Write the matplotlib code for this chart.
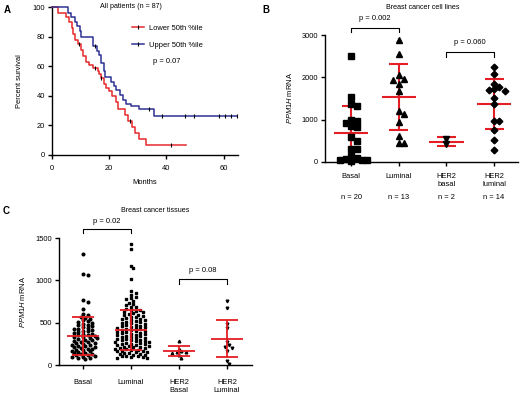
import numpy as np
import matplotlib
matplotlib.use("Agg")
import matplotlib.pyplot as plt
from matplotlib.lines import Line2D

plt.rcParams['font.family'] = ['Liberation Sans', 'DejaVu Sans']
plt.rcParams['mathtext.fontset'] = 'custom'
plt.rcParams['mathtext.it'] = 'Liberation Sans:italic'
plt.rcParams['mathtext.rm'] = 'Liberation Sans'
plt.rcParams['axes.linewidth'] = 1.0

FS = 5.4
RED_KM = '#e5282c'
BLUE_KM = '#2e3192'
RED_BAR = '#e31e24'

# ---- panel A: survival curves (step times / percent survival) ----
low_t = [0, 2, 5, 6, 7, 7.5, 8, 9, 10, 11, 12, 13, 14.5, 16, 16.5, 17, 18, 19, 20, 21, 22.4, 23, 25.5, 26.7, 28, 29, 30.5, 33, 47]
low_s = [100, 96, 93, 90, 86, 82, 78, 75, 71, 67, 63, 61, 59, 57, 55, 52, 48, 45, 43, 40, 36, 31, 27, 23, 19, 15, 11, 7, 7]
low_cens = [9.3, 14.9, 17.2, 27.3, 41.5]

up_t = [0, 5.5, 6.7, 7.9, 8.8, 9.7, 10.3, 14.5, 15.8, 16.4, 17.2, 18, 18.5, 20.6, 21.6, 22.4, 23.6, 24.8, 26, 27.6, 30.3, 35.8, 64.5]
up_s = [100, 96, 93.5, 90, 87, 83.5, 79.5, 73.5, 70.5, 67.5, 62, 56.5, 52.5, 49.5, 46.5, 44, 40.5, 37, 34.5, 33, 31, 26.6, 26.6]
up_cens = [15, 34, 38.3, 46.5, 49.5, 58.2, 60.5, 62.5, 64.5]

# ---- panel B: cell lines ----
b_groups = ['Basal', 'Luminal', 'HER2\nbasal', 'HER2\nluminal']
b_n = ['n = 20', 'n = 13', 'n = 2', 'n = 14']
b_basal = [2514, 1527, 1378, 1331, 1002, 963, 924, 861, 822, 595, 493, 298, 298, 141, 86, 63, 39, 39, 39, 20]
b_luminal = [2881, 2552, 2059, 1958, 1942, 1840, 1668, 1214, 1135, 940, 611, 454, 454]
b_her2_basal = [548, 415]
b_her2_luminal = [2239, 2075, 1848, 1770, 1723, 1707, 1683, 1511, 1378, 963, 963, 752, 517, 274]
b_mean = [681, 1535, 478, 1378]
b_sd = [650, 790, 110, 590]

# ---- panel C: tissues ----
c_groups = ['Basal', 'Luminal', 'HER2\nBasal', 'HER2\nLuminal']
c_basal = [1310, 1080, 1060, 770, 750, 665, 600, 588, 572, 560, 548, 533, 521, 507, 498, 487, 476, 468,
           455, 447, 438, 430, 422, 413, 404, 397, 389, 380, 372, 366, 357, 350, 343, 336, 328, 320, 314,
           306, 299, 292, 284, 277, 270, 263, 256, 250, 242, 236, 229, 222, 216, 208, 201, 195, 188, 181,
           174, 168, 161, 154, 147, 141, 134, 127, 120, 113, 107, 100, 94, 87, 80, 72]
c_luminal = [1430, 1370, 1170, 1140, 1010, 870, 850, 830, 805, 790, 775, 760, 735, 720, 705, 690, 680, 665,
             655, 648, 640, 632, 625, 611, 604, 596, 588, 580, 571, 563, 556, 548, 541, 533, 527, 519, 512,
             506, 498, 491, 485, 478, 470, 466, 459, 452, 447, 440, 434, 428, 421, 416, 409, 403, 398, 391,
             386, 380, 374, 369, 362, 357, 351, 346, 340, 334, 329, 323, 318, 312, 307, 301, 296, 290, 285,
             279, 275, 270, 264, 259, 254, 249, 244, 238, 233, 228, 222, 218, 212, 207, 203, 197, 192, 186,
             181, 176, 170, 166, 160, 155, 150, 144, 139, 134, 128, 123, 118, 112, 106, 101, 96, 90, 84, 80]
c_her2_basal = [287, 195, 160, 155, 150, 145, 120, 85]
c_her2_luminal = [756, 677, 485, 440, 268, 240, 216, 205, 170, 47, 12]
c_mean = [343, 414, 165, 311]
c_sd = [226, 238, 55, 220]


def swarm(vals, diam, step, px_x, px_y):
    """Greedy column-scatter offsets (in x data units)."""
    vals = np.asarray(vals, float)
    order = np.argsort(-vals)
    placed = []
    offs = np.zeros(len(vals))
    steps = [0.0]
    for k in range(1, 60):
        steps += [k * step, -k * step]
    for i in order:
        y = vals[i] * px_y
        for s in steps:
            if all((px - s) ** 2 + (py - y) ** 2 >= diam ** 2 for px, py in placed):
                offs[i] = s / px_x
                placed.append((s, y))
                break
    return offs


def prism_axes(ax):
    for sp in ['top', 'right']:
        ax.spines[sp].set_visible(False)
    ax.tick_params(direction='out', length=3, width=1.0, labelsize=FS, pad=2)


def mean_sd(ax, x, m, s, lw, wm, wc, z):
    ax.plot([x - wm, x + wm], [m, m], color=RED_BAR, lw=lw, zorder=z, solid_capstyle='butt')
    ax.plot([x, x], [m - s, m + s], color=RED_BAR, lw=lw, zorder=z, solid_capstyle='butt')
    for v in (m - s, m + s):
        ax.plot([x - wc, x + wc], [v, v], color=RED_BAR, lw=lw, zorder=z, solid_capstyle='butt')


def bracket(ax, x0, x1, y, leg, text, ty):
    ax.plot([x0, x0, x1, x1], [y - leg, y, y, y - leg], color='k', lw=0.8, clip_on=False)
    ax.text((x0 + x1) / 2, ty, text, ha='center', va='center', fontsize=FS)


fig = plt.figure(figsize=(5.2, 3.93), dpi=100)

# ---------------- A ----------------
axA = fig.add_axes([0.1, 0.6056, 0.3577, 0.3764])
prism_axes(axA)
axA.step(low_t, low_s, where='post', color=RED_KM, lw=1.1, clip_on=False, zorder=3)
axA.step(up_t, up_s, where='post', color=BLUE_KM, lw=1.1, clip_on=False, zorder=3)
for t_c, ts, ss in ((low_cens, low_t, low_s), (up_cens, up_t, up_s)):
    idx = np.searchsorted(ts, t_c, side='right') - 1
    axA.plot(t_c, np.asarray(ss)[idx], ls='none', marker='|', color='k', ms=3.5, mew=0.8, zorder=4, clip_on=False)
axA.set_xlim(0, 65)
axA.set_ylim(0, 100)
axA.set_xticks([0, 20, 40, 60])
axA.set_yticks([0, 20, 40, 60, 80, 100])
axA.tick_params(axis='x', pad=4)
axA.set_xlabel('Months', fontsize=FS, labelpad=5)
axA.set_ylabel('Percent survival', fontsize=FS, labelpad=7)
axA.text(0.425, 1.005, 'All patients (n = 87)', transform=axA.transAxes, ha='center', va='center',
         fontsize=FS - 0.3)
handles = [Line2D([], [], color=RED_KM, lw=1.1, marker='|', mec='k', ms=3.5, mew=0.8),
           Line2D([], [], color=BLUE_KM, lw=1.1, marker='|', mec='k', ms=3.5, mew=0.8)]
axA.legend(handles, ['Lower 50th %ile', 'Upper 50th %ile'], loc='upper left',
           bbox_to_anchor=(0.415, 0.9), frameon=False, fontsize=FS, handlelength=1.6,
           handletextpad=0.7, labelspacing=1.25, borderaxespad=0)
axA.text(0.545, 0.63, 'p = 0.07', transform=axA.transAxes, fontsize=FS, va='center')

# ---------------- B ----------------
axB = fig.add_axes([0.625, 0.5878, 0.371, 0.3231])
prism_axes(axB)
axB.set_xlim(-0.55, 3.5)
axB.set_ylim(0, 3000)
b_data = [b_basal, b_luminal, b_her2_basal, b_her2_luminal]
b_mark = [('s', 4.0), ('^', 4.0), ('v', 4.0), ('D', 3.4)]
bx_px = 48.0
by_px = 127.0 / 3000
for i, vals in enumerate(b_data):
    offs = swarm(vals, 5.0, 5.4, bx_px, by_px)
    axB.plot(i + offs, vals, ls='none', marker=b_mark[i][0], ms=b_mark[i][1], color='k', zorder=3, clip_on=False)
    mean_sd(axB, i, b_mean[i], b_sd[i], 1.5, 0.36, 0.2, 2)
axB.set_xticks(range(4))
axB.set_xticklabels(b_groups, fontsize=FS, linespacing=1.15)
axB.tick_params(axis='x', pad=5)
axB.set_yticks([0, 1000, 2000, 3000])
axB.set_ylabel(r'$\it{PPM1H}$ mRNA', fontsize=FS, labelpad=5)
for i, lab in enumerate(b_n):
    axB.text(i, -0.28, lab, transform=axB.get_xaxis_transform(), ha='center', va='center', fontsize=FS)
bracket(axB, 0, 1, 3165, 95, 'p = 0.002', 3390)
bracket(axB, 2, 3, 2606, 118, 'p = 0.060', 2820)
axB.text(1.5, 3640, 'Breast cancer cell lines', ha='center', va='center', fontsize=FS - 0.3)

# ---------------- C ----------------
axC = fig.add_axes([0.1135, 0.0712, 0.3711, 0.3232])
prism_axes(axC)
axC.set_xlim(-0.5, 3.52)
axC.set_ylim(0, 1500)
c_data = [c_basal, c_luminal, c_her2_basal, c_her2_luminal]
c_mark = ['o', 's', '^', 'v']
cx_px = 48.0
cy_px = 127.0 / 1500
for i, vals in enumerate(c_data):
    offs = swarm(vals, 3.2, 2.3, cx_px, cy_px)
    axC.plot(i + offs, vals, ls='none', marker=c_mark[i], ms=1.9, color='k', zorder=2, clip_on=False)
    mean_sd(axC, i, c_mean[i], c_sd[i], 1.3, 0.34, 0.22, 3)
axC.set_xticks(range(4))
axC.set_xticklabels(c_groups, fontsize=FS, linespacing=1.15)
axC.tick_params(axis='x', pad=7)
axC.set_yticks([0, 500, 1000, 1500])
axC.set_ylabel(r'$\it{PPM1H}$ mRNA', fontsize=FS, labelpad=6)
bracket(axC, 0, 1, 1603, 47, 'p = 0.02', 1693)
bracket(axC, 2, 3, 1012, 55, 'p = 0.08', 1114)
axC.text(1.5, 1820, 'Breast cancer tissues', ha='center', va='center', fontsize=FS - 0.3)

# panel letters
fig.text(0.008, 0.988, 'A', fontsize=7, fontweight='bold', va='top')
fig.text(0.505, 0.988, 'B', fontsize=7, fontweight='bold', va='top')
fig.text(0.006, 0.475, 'C', fontsize=7, fontweight='bold', va='top')

fig.savefig('out.png', dpi=100)
